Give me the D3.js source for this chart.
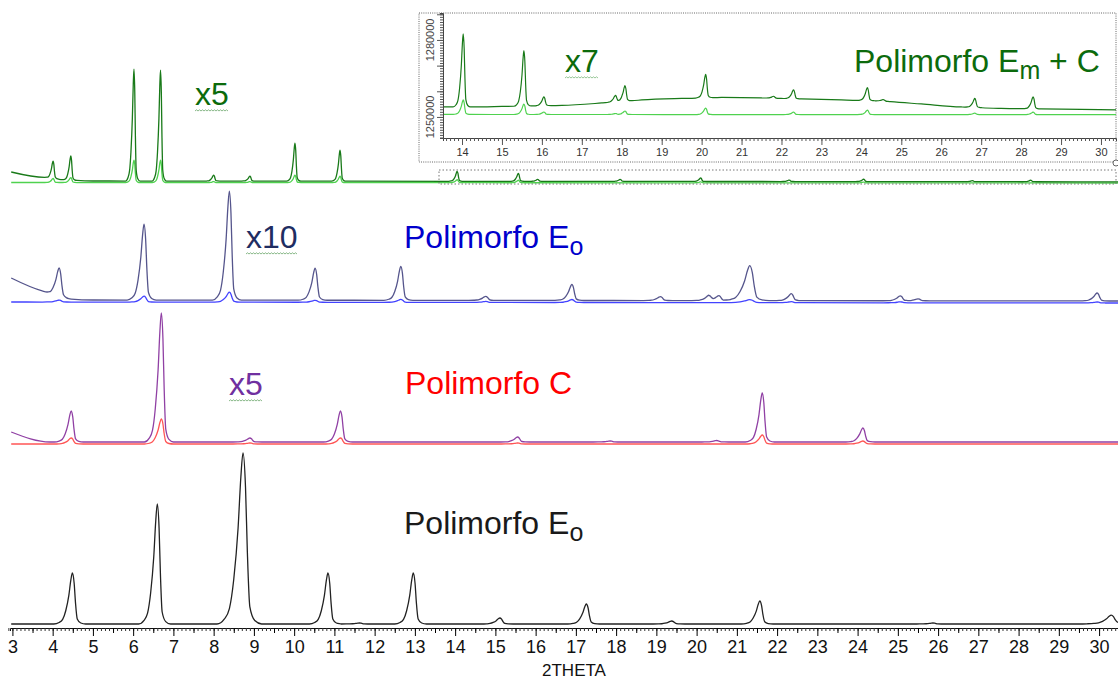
<!DOCTYPE html>
<html><head><meta charset="utf-8">
<script src="https://cdn.jsdelivr.net/npm/d3@7"></script>
<style>
html,body{margin:0;padding:0;background:#fff;}
svg{display:block;font-family:"Liberation Sans",Arial,sans-serif;}
</style></head><body>
<svg id="chart" width="1118" height="681"></svg>
<script>
// ================= DATA =================
// peak shape read from the 6.6° reflection: [offset in °2θ, fraction of height]
const peakProfile = [[-0.42,0],[-0.3,0.03],[-0.22,0.09],[-0.15,0.26],[-0.08,0.56],[-0.035,0.86],[0,1],[0.04,0.8],[0.07,0.42],[0.11,0.1],[0.19,0.02],[0.3,0]];

// main stacked diffractograms: baselines [2θ, counts] and peaks [2θ, height, width factor]
const eoRefBase   = [[2.97,40],[29.5,40],[30.47,50]];
const eoRefPeaks  = [[4.49,510],[6.60,1200],[8.73,1710,1.4],[10.84,510],[11.62,10],[12.96,510],[15.11,60],[17.26,200],[19.38,30],[21.57,230],[25.87,10],[30.30,80,1.3]];

const cRawBase    = [[2.97,1840],[30.47,1840]];
const cRawPeaks   = [[4.46,60],[6.70,250],[8.90,10],[11.15,60],[15.55,10],[21.63,90],[24.13,30]];
const cX5Base     = [[2.97,1960],[3.93,1860],[30.47,1860]];
const cX5Peaks    = [[4.46,310],[6.70,1290],[8.90,40],[11.15,310],[15.55,50],[17.85,10],[20.5,15],[21.63,490],[24.13,140]];

const eoRawBase   = [[2.97,3260],[30.47,3250]];
const eoRawPeaks  = [[4.16,20],[6.27,60],[8.39,100],[10.52,20],[12.65,30],[14.76,10],[16.90,30],[21.32,30,1.6],[22.35,10],[25.06,10],[29.95,10]];
const eoX10Base   = [[2.97,3500],[3.93,3340],[4.4,3290],[5,3280],[30.47,3270]];
const eoX10Peaks  = [[4.16,285],[6.27,760],[8.39,1090],[10.52,320],[12.65,340],[14.76,40],[16.90,160],[19.10,40],[20.30,50],[20.55,50],[21.32,350,1.6],[22.35,70],[25.06,50],[25.50,20],[29.95,80]];

const emcRawBase  = [[2.97,4455],[30.47,4450]];
const emcRawPeaks = [[4.01,40],[4.45,50],[6.02,225],[6.68,225],[8.0,10],[8.9,10],[10.02,75],[11.14,65],[14.05,30],[15.57,25],[20.1,10],[24.15,8]];
const emcX5Base   = [[2.97,4560],[3.9,4500],[4.3,4480],[5,4470],[30.47,4462]];
const emcX5Peaks  = [[4.01,175],[4.45,242],[6.02,1120],[6.68,1110],[8.0,60],[8.9,50],[10.02,380],[11.14,310],[14.05,100],[15.57,80],[16.05,20],[18.1,20],[20.1,35],[22.3,15],[24.15,25],[26.85,10],[28.3,15]];

// inset (zoom 13.5–30.4 °2θ, x7)
const insetX7Base  = [[13.52,1253900],[14.5,1253900],[15.0,1254090],[16.5,1254480],[17.5,1255450],[18.5,1256620],[19.5,1257210],[20.5,1257600],[21.5,1257400],[22.5,1257010],[23.5,1256620],[24.5,1256230],[25.5,1255060],[26.5,1253900],[27.5,1253310],[28.5,1253120],[29.5,1252920],[30.38,1252730]];
const insetX7Peaks = [[14.03,28440],[15.55,21620],[16.05,3510],[17.84,2530],[18.08,6040],[20.10,9160],[21.80,780],[22.30,3500],[24.15,5060],[24.55,600],[26.84,3500],[28.30,4680]];
const insetRawBase  = [[13.52,1250970],[30.38,1250900]];
const insetRawPeaks = [[14.03,5650],[15.55,4090],[16.05,970],[17.84,390],[18.08,1360],[20.10,2530],[22.30,970],[24.15,1750],[26.84,580],[28.30,970]];

const mainTicks  = d3.range(3, 31);
const insetTicks = d3.range(14, 31);
const insetYTicks = [1250000, 1280000];

// ================= CHART =================
const svg = d3.select('#chart');

const x = d3.scaleLinear().domain([2.94, 30.47]).range([10, 1118]);
const y = d3.scaleLinear().domain([0, 6280]).range([628, 0]);

function interp(pts, t) {
  if (t <= pts[0][0]) return pts[0][1];
  for (let i = 1; i < pts.length; i++) {
    if (t <= pts[i][0]) {
      const [x0, y0] = pts[i-1], [x1, y1] = pts[i];
      return y0 + (y1 - y0) * (t - x0) / (x1 - x0);
    }
  }
  return pts[pts.length-1][1];
}
function buildTrace(base, peaks, width, lo, hi) {
  const xs = new Set([lo, hi]);
  base.forEach(p => { if (p[0] > lo && p[0] < hi) xs.add(p[0]); });
  peaks.forEach(([pos, h, wf]) => {
    const w = width * (wf || 1);
    peakProfile.forEach(([o]) => { const t = +(pos + o * w).toFixed(4); if (t > lo && t < hi) xs.add(t); });
  });
  const pMin = peakProfile[0][0], pMax = peakProfile[peakProfile.length-1][0];
  return Array.from(xs).sort((a, b) => a - b).map(t => [t,
    interp(base, t) + d3.sum(peaks, ([pos, h, wf]) => {
      const o = (t - pos) / (width * (wf || 1));
      return (o <= pMin || o >= pMax) ? 0 : h * interp(peakProfile, o);
    })]);
}

const defs = svg.append('defs');
defs.append('clipPath').attr('id', 'mainClip').append('rect').attr('x', 10).attr('y', 0).attr('width', 1108).attr('height', 628);

const mainLine = d3.line().x(d => x(d[0])).y(d => y(d[1])).curve(d3.curveMonotoneX);
const gTr = svg.append('g').attr('clip-path', 'url(#mainClip)');
const lo = 2.97, hi = 30.47;
const traces = [
  {base: emcRawBase, peaks: emcRawPeaks, w: 0.5, color: '#4fd24f'},
  {base: emcX5Base,  peaks: emcX5Peaks,  w: 0.5, color: '#197a19'},
  {base: eoRawBase,  peaks: eoRawPeaks,  w: 1.0, color: '#4343ff'},
  {base: eoX10Base,  peaks: eoX10Peaks,  w: 1.0, color: '#55558c'},
  {base: cRawBase,   peaks: cRawPeaks,   w: 1.0, color: '#ff5555'},
  {base: cX5Base,    peaks: cX5Peaks,    w: 1.0, color: '#9040a4'},
  {base: eoRefBase,  peaks: eoRefPeaks,  w: 1.1, color: '#222222'}
];
traces.forEach(t => {
  gTr.append('path').datum(buildTrace(t.base, t.peaks, t.w, lo, hi))
    .attr('d', mainLine).attr('fill', 'none').attr('stroke', t.color)
    .attr('stroke-width', 1.3).attr('stroke-linejoin', 'round');
});

// main axis
const axG = svg.append('g').attr('transform', 'translate(0,628)');
axG.call(d3.axisBottom(x).tickValues(d3.range(29, 305).map(d => d / 10)).tickSize(3).tickFormat(''));
axG.call(g => g.selectAll('.tick line').attr('stroke', '#333'));
const axMid = svg.append('g').attr('transform', 'translate(0,628)');
axMid.call(d3.axisBottom(x).tickValues(d3.range(3, 31).map(d => d - 0.5)).tickSize(5).tickFormat(''));
axMid.select('.domain').remove();
const axMaj = svg.append('g').attr('transform', 'translate(0,628)');
axMaj.call(d3.axisBottom(x).tickValues(mainTicks).tickSize(8).tickPadding(4).tickFormat(d3.format('d')));
axMaj.select('.domain').remove();
axMaj.selectAll('text').attr('font-size', 18).attr('fill', '#111').attr('font-family', '"Liberation Sans",Arial,sans-serif');
svg.selectAll('.domain').attr('stroke', '#111');
svg.append('text').attr('x', 574).attr('y', 676).attr('text-anchor', 'middle')
  .attr('font-size', 17).attr('fill', '#111').text('2THETA');

// dashed zoom-region rectangle
svg.append('rect').attr('x', 439).attr('y', 170).attr('width', 677).attr('height', 14)
  .attr('fill', 'none').attr('stroke', '#777').attr('stroke-dasharray', '1.5,2').attr('stroke-width', 1);

// ================= INSET =================
const xi = d3.scaleLinear().domain([13.524, 30.376]).range([443, 1116]);
const yi = d3.scaleLinear().domain([1241800, 1290500]).range([138, 13]);
const ins = svg.append('g');
ins.append('rect').attr('x', 419).attr('y', 13).attr('width', 697).attr('height', 149)
  .attr('fill', '#fff').attr('stroke', '#666').attr('stroke-dasharray', '1,1.2').attr('stroke-width', 1);
defs.append('clipPath').attr('id', 'insClip').append('rect').attr('x', 443).attr('y', 13).attr('width', 673).attr('height', 125);
const insLine = d3.line().x(d => xi(d[0])).y(d => yi(d[1])).curve(d3.curveMonotoneX);
const gIns = ins.append('g').attr('clip-path', 'url(#insClip)');
[{base: insetRawBase, peaks: insetRawPeaks, color: '#4fd24f'},
 {base: insetX7Base,  peaks: insetX7Peaks,  color: '#197a19'}].forEach(t => {
  gIns.append('path').datum(buildTrace(t.base, t.peaks, 0.6, 13.524, 30.376))
    .attr('d', insLine).attr('fill', 'none').attr('stroke', t.color).attr('stroke-width', 1.2);
});
// inset x axis
const ixMin = ins.append('g').attr('transform', 'translate(0,138)');
ixMin.call(d3.axisBottom(xi).tickValues(d3.range(136, 304).map(d => d / 10)).tickSize(3).tickFormat(''));
const ixMaj = ins.append('g').attr('transform', 'translate(0,138)');
ixMaj.call(d3.axisBottom(xi).tickValues(insetTicks).tickSize(7).tickPadding(3).tickFormat(d3.format('d')));
ixMaj.select('.domain').remove();
ixMaj.selectAll('text').attr('font-size', 11).attr('fill', '#333').attr('font-family', '"Liberation Sans",Arial,sans-serif');
// inset y axis
const iyMin = ins.append('g').attr('transform', 'translate(443,0)');
iyMin.call(d3.axisLeft(yi).tickValues(d3.range(1242000, 1290001, 1000)).tickSize(3).tickFormat(''));
const iyMaj = ins.append('g').attr('transform', 'translate(443,0)');
iyMaj.call(d3.axisLeft(yi).tickValues(d3.range(1250000, 1290001, 10000)).tickSize(6).tickFormat(''));
iyMaj.select('.domain').remove();
ins.selectAll('.tick line').attr('stroke', '#555');
ins.selectAll('.domain').attr('stroke', '#444');
ins.selectAll('text.ylab').data(insetYTicks).enter().append('text')
  .attr('transform', d => `translate(434,${yi(d)}) rotate(-90)`)
  .attr('text-anchor', 'middle').attr('font-size', 11).attr('fill', '#444').text(d => d);
ins.append('circle').attr('cx', 1116).attr('cy', 163).attr('r', 3).attr('fill', '#fff').attr('stroke', '#666');

// ================= LABELS =================
function squiggle(x0, x1, yy, color) {
  let d = `M${x0},${yy}`; let up = true;
  for (let xx = x0 + 1.5; xx <= x1; xx += 1.5) { d += `L${xx},${yy + (up ? -1.2 : 0)}`; up = !up; }
  svg.append('path').attr('d', d).attr('fill', 'none').attr('stroke', color).attr('stroke-width', 0.9);
}
function label(txt, xx, yy, color, sub, tail, sq) {
  const t = svg.append('text').attr('x', xx).attr('y', yy).attr('font-size', 32).attr('fill', color);
  t.append('tspan').text(txt);
  if (sub) t.append('tspan').attr('font-size', 25).attr('dy', 7).text(sub);
  if (tail) t.append('tspan').attr('dy', -7).text(tail);
  if (sq) { const b = t.node().getBBox(); squiggle(b.x, b.x + b.width, yy + 6, sq); }
}
label('x5', 195, 105, '#0c6b0c', null, null, '#7ab07a');
label('x7', 565, 72, '#0c6b0c', null, null, '#8cc08c');
label('Polimorfo E', 854, 72, '#0c6b0c', 'm', ' + C');
label('x10', 246, 248, '#1f2d62', null, null, '#7ab07a');
label('Polimorfo E', 404, 248, '#0000cc', 'o');
label('x5', 229, 395, '#7030a0', null, null, '#7ab07a');
label('Polimorfo C', 405, 394, '#ff0000');
label('Polimorfo E', 404, 534, '#1a1a1a', 'o');
</script>
</body></html>
